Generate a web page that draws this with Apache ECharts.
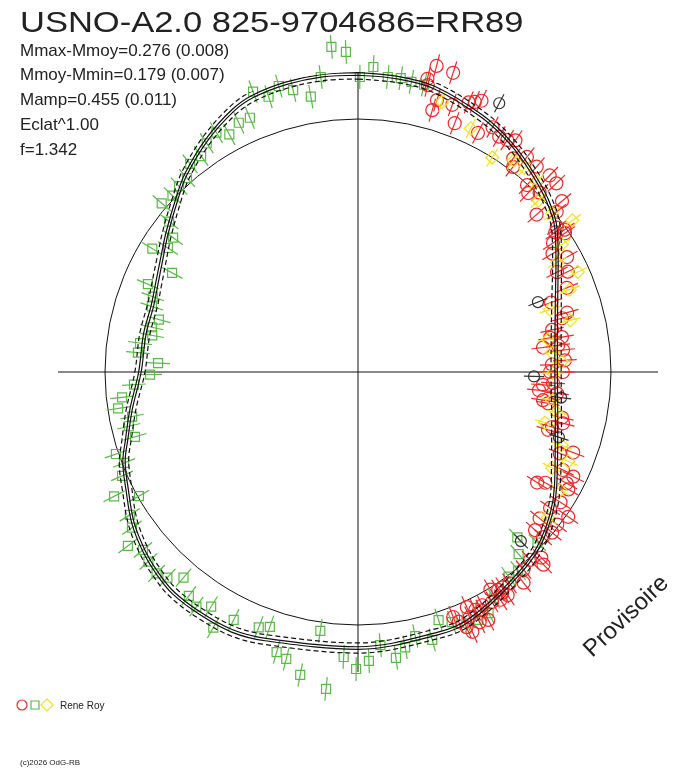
<!DOCTYPE html>
<html>
<head>
<meta charset="utf-8">
<script src="https://cdn.jsdelivr.net/npm/echarts@6/dist/echarts.min.js"></script>
<style>
  html, body { margin: 0; padding: 0; background: #fff; }
  #chart { width: 688px; height: 768px; }
</style>
</head>
<body>
<div id="chart"></div>
<script>
// mean light curve: phase (0..1, clockwise from top) and radius (reference circle = 1)
const curvePhase = [0.000, 0.022, 0.042, 0.072, 0.094, 0.114, 0.133, 0.150, 0.169, 0.194, 0.225, 0.250,
    0.289, 0.333, 0.369, 0.400, 0.433, 0.452, 0.500, 0.553, 0.572, 0.592, 0.611, 0.625, 0.639, 0.656,
    0.675, 0.692, 0.705, 0.724, 0.750, 0.778, 0.800, 0.817, 0.834, 0.850, 0.872, 0.886, 0.908, 0.929,
    0.942, 0.961, 0.981, 1.000];
const curveR = [1.178, 1.174, 1.164, 1.123, 1.087, 1.047, 1.010, 0.967, 0.901, 0.836, 0.793, 0.783,
    0.809, 0.901, 0.987, 1.028, 1.075, 1.081, 1.091, 1.119, 1.138, 1.140, 1.138, 1.123, 1.103, 1.071,
    1.024, 0.990, 0.952, 0.909, 0.862, 0.856, 0.854, 0.870, 0.897, 0.933, 0.992, 1.036, 1.095, 1.146,
    1.166, 1.176, 1.180, 1.178];
const bandHalf = 0.02;    // dashed envelope
const fitHalf = 0.005;    // double solid fit line

// observations [phase, radius]
const greenObs = [
    [0.987, 1.289], [0.994, 1.266], [0.008, 1.207], [0.001, 1.166], [0.980, 1.175], [0.016, 1.172],
    [0.023, 1.174], [0.029, 1.166], [0.036, 1.165], [0.957, 1.173], [0.964, 1.143], [0.943, 1.183],
    [0.950, 1.144], [0.973, 1.104], [0.936, 1.092], [0.929, 1.092], [0.915, 1.099], [0.921, 1.068],
    [0.907, 1.084], [0.900, 1.055], [0.892, 1.057], [0.885, 1.022], [0.878, 1.020], [0.871, 1.012],
    [0.863, 1.023], [0.857, 0.954], [0.850, 0.903], [0.836, 0.948], [0.842, 0.897], [0.828, 0.833],
    [0.813, 0.900], [0.806, 0.864], [0.799, 0.855], [0.791, 0.814], [0.784, 0.834], [0.778, 0.826],
    [0.771, 0.869], [0.764, 0.873], [0.757, 0.791], [0.748, 0.822], [0.741, 0.887], [0.733, 0.938],
    [0.726, 0.959], [0.719, 0.910], [0.713, 0.931], [0.705, 0.918], [0.698, 1.010], [0.691, 0.992],
    [0.684, 1.019], [0.675, 1.082], [0.668, 0.995], [0.661, 1.064], [0.654, 1.085], [0.647, 1.140],
    [0.640, 1.103], [0.633, 1.117], [0.625, 1.126], [0.619, 1.108], [0.612, 1.066], [0.603, 1.109],
    [0.596, 1.126], [0.589, 1.094], [0.582, 1.161], [0.574, 1.096], [0.559, 1.083], [0.553, 1.066],
    [0.545, 1.153], [0.539, 1.169], [0.530, 1.219], [0.523, 1.034], [0.516, 1.259], [0.508, 1.128],
    [0.501, 1.174], [0.494, 1.143], [0.487, 1.083], [0.479, 1.140], [0.473, 1.104], [0.466, 1.068],
    [0.457, 1.099], [0.450, 1.031], [0.443, 1.056], [0.435, 1.080], [0.378, 0.908], [0.371, 0.979],
    [0.385, 0.960], [0.392, 1.009], [0.399, 1.004], [0.414, 1.043], [0.421, 1.084], [0.428, 1.089]
];
const redObs = [
    [0.040, 1.249], [0.049, 1.241], [0.037, 1.191], [0.038, 1.167], [0.044, 1.076], [0.045, 1.119],
    [0.059, 1.055], [0.054, 1.120], [0.062, 1.152], [0.065, 1.163], [0.068, 1.178], [0.074, 1.057],
    [0.080, 1.104], [0.086, 1.085], [0.091, 1.090], [0.095, 1.107], [0.100, 1.044], [0.103, 1.016],
    [0.106, 1.081], [0.114, 1.076], [0.123, 1.085], [0.129, 1.082], [0.117, 0.996], [0.121, 0.976],
    [0.126, 1.009], [0.139, 1.052], [0.135, 0.941], [0.142, 1.009], [0.150, 0.971], [0.154, 0.992],
    [0.152, 0.955], [0.156, 0.985], [0.157, 0.924], [0.163, 0.900], [0.170, 0.943], [0.176, 0.880],
    [0.179, 0.919], [0.189, 0.890], [0.195, 0.811], [0.206, 0.859], [0.209, 0.834], [0.216, 0.785],
    [0.222, 0.771], [0.223, 0.818], [0.229, 0.798], [0.229, 0.738], [0.233, 0.815], [0.241, 0.819],
    [0.244, 0.767], [0.250, 0.759], [0.250, 0.810], [0.261, 0.733], [0.259, 0.772], [0.266, 0.719],
    [0.267, 0.791], [0.274, 0.740], [0.276, 0.761], [0.285, 0.826], [0.289, 0.835], [0.294, 0.797],
    [0.297, 0.785], [0.307, 0.908], [0.311, 0.860], [0.321, 0.898], [0.322, 0.946], [0.328, 0.935],
    [0.338, 0.832], [0.335, 0.860], [0.331, 0.952], [0.341, 0.952], [0.348, 0.930], [0.358, 0.922],
    [0.346, 1.009], [0.354, 0.992], [0.366, 0.938], [0.360, 0.996], [0.366, 0.980], [0.376, 1.031],
    [0.378, 1.057], [0.382, 1.007], [0.389, 1.019], [0.394, 1.059], [0.401, 1.028], [0.406, 1.025],
    [0.409, 1.024], [0.413, 1.007], [0.408, 1.043], [0.406, 1.062], [0.411, 1.062], [0.416, 1.052],
    [0.422, 1.045], [0.431, 1.024], [0.427, 1.048], [0.424, 1.061], [0.432, 1.065], [0.428, 1.100],
    [0.423, 1.107], [0.436, 1.096], [0.434, 1.122], [0.441, 1.039], [0.439, 1.064]
];
const yellowObs = [
    [0.048, 1.118], [0.069, 1.061], [0.089, 1.000], [0.101, 1.038], [0.109, 1.042], [0.120, 1.032],
    [0.129, 0.984], [0.141, 0.991], [0.152, 1.038], [0.161, 0.950], [0.170, 0.899], [0.182, 0.955],
    [0.191, 0.898], [0.200, 0.798], [0.212, 0.863], [0.223, 0.762], [0.234, 0.771], [0.242, 0.807],
    [0.251, 0.771], [0.273, 0.775], [0.282, 0.802], [0.292, 0.766], [0.305, 0.856], [0.314, 0.903],
    [0.323, 0.856], [0.334, 0.925], [0.354, 0.945]
];
const blackObs = [
    [0.077, 1.200], [0.191, 0.763], [0.254, 0.696], [0.270, 0.809], [0.300, 0.835], [0.378, 0.928]
];
const errGreen = 0.047;
const errRed = 0.047;
const errYellow = 0.042;
const errBlack = 0.04;

const statLines = ['Mmax-Mmoy=0.276 (0.008)', 'Mmoy-Mmin=0.179 (0.007)', 'Mamp=0.455 (0.011)', 'Eclat^1.00', 'f=1.342'];

const chart = echarts.init(document.getElementById('chart'), null, { renderer: 'canvas' });

function toPolar(obs) {
    return obs.map(function (d) { return [d[1], d[0]]; });
}

function curveData(offset) {
    return curvePhase.map(function (p, i) { return [curveR[i] + offset, p]; });
}

/**
 * Builds a renderItem drawing a hollow marker with a radial error bar.
 */
function markerRenderer(color, shape, size, err) {
    return function (params, api) {
        const r = api.value(0);
        const ph = api.value(1);
        const p = api.coord([r, ph]);
        const a = api.coord([r - err, ph]);
        const b = api.coord([r + err, ph]);
        const st = { stroke: color, fill: 'none', lineWidth: 1.2 };
        const children = [{
            type: 'line',
            shape: { x1: a[0], y1: a[1], x2: b[0], y2: b[1] },
            style: { stroke: color, lineWidth: 1.2 }
        }];
        if (shape === 'circle') {
            children.push({ type: 'circle', shape: { cx: p[0], cy: p[1], r: size }, style: st });
        } else if (shape === 'square') {
            children.push({ type: 'rect', shape: { x: p[0] - size, y: p[1] - size, width: 2 * size, height: 2 * size }, style: st });
        } else {
            children.push({
                type: 'polygon',
                shape: { points: [[p[0], p[1] - size], [p[0] + size, p[1]], [p[0], p[1] + size], [p[0] - size, p[1]]] },
                style: st
            });
        }
        return { type: 'group', children: children };
    };
}

function markerSeries(obs, color, shape, size, err) {
    return {
        type: 'custom',
        coordinateSystem: 'polar',
        polarIndex: 0,
        silent: true,
        z: 2,
        renderItem: markerRenderer(color, shape, size, err),
        data: toPolar(obs)
    };
}

function lineSeries(offset, dashed) {
    return {
        type: 'line',
        coordinateSystem: 'polar',
        polarIndex: 0,
        smooth: 0.35,
        symbol: 'none',
        silent: true,
        clip: false,
        z: 5,
        lineStyle: { color: '#111', width: 1.2, type: dashed ? [5, 3] : 'solid' },
        data: curveData(offset)
    };
}

const hidden = { show: false };
const textFont = '17px "Liberation Sans", Arial, sans-serif';

const graphics = [{
    type: 'text',
    x: 20, y: 24,
    scaleX: 1.15,
    style: { text: 'USNO-A2.0 825-9704686=RR89', font: '30px "Liberation Sans", Arial, sans-serif', fill: '#222', textAlign: 'left', textVerticalAlign: 'middle' }
}];
statLines.forEach(function (t, i) {
    graphics.push({
        type: 'text',
        x: 20, y: 51 + i * 24.8,
        style: { text: t, font: textFont, fill: '#222', textAlign: 'left', textVerticalAlign: 'middle' }
    });
});
graphics.push({
    type: 'text',
    x: 596, y: 662,
    rotation: 0.76,
    style: { text: 'Provisoire', font: '24px "Liberation Sans", Arial, sans-serif', fill: '#222', textAlign: 'left', textVerticalAlign: 'bottom' }
});
graphics.push(
    { type: 'circle', shape: { cx: 22, cy: 705, r: 5 }, style: { stroke: '#EA2A2A', fill: 'none', lineWidth: 1.2 } },
    { type: 'rect', shape: { x: 31, y: 701, width: 8, height: 8 }, style: { stroke: '#5CB84A', fill: 'none', lineWidth: 1.2 } },
    { type: 'polygon', shape: { points: [[47, 699], [53, 705], [47, 711], [41, 705]] }, style: { stroke: '#F2E21A', fill: 'none', lineWidth: 1.2 } },
    { type: 'text', x: 60, y: 706, style: { text: 'Rene Roy', font: '10px "Liberation Sans", Arial, sans-serif', fill: '#222', textVerticalAlign: 'middle' } },
    { type: 'text', x: 20, y: 763, style: { text: '(c)2026 OdG-RB', font: '8px "Liberation Sans", Arial, sans-serif', fill: '#222', textVerticalAlign: 'middle' } }
);

const options = {
    backgroundColor: '#fff',
    animation: false,
    polar: [
        { center: [358, 372], radius: 300 },
        { center: [358, 372], radius: 253 }
    ],
    angleAxis: [{
        polarIndex: 0,
        type: 'value',
        min: 0, max: 1, interval: 0.25,
        startAngle: 90, clockwise: true,
        axisLine: hidden, axisTick: hidden, axisLabel: hidden,
        splitLine: { show: true, lineStyle: { color: '#111', width: 1 } }
    }, {
        polarIndex: 1,
        type: 'value',
        min: 0, max: 1,
        startAngle: 90, clockwise: true,
        axisLine: { show: true, lineStyle: { color: '#111', width: 1 } },
        axisTick: hidden, axisLabel: hidden, splitLine: hidden
    }],
    radiusAxis: [{
        polarIndex: 0,
        type: 'value',
        min: 0, max: 300 / 253,
        axisLine: hidden, axisTick: hidden, axisLabel: hidden, splitLine: hidden
    }, {
        polarIndex: 1,
        type: 'value',
        min: 0, max: 1,
        axisLine: hidden, axisTick: hidden, axisLabel: hidden, splitLine: hidden
    }],
    graphic: graphics,
    series: [
        markerSeries(greenObs, '#5CB84A', 'square', 4.5, errGreen),
        markerSeries(redObs, '#EA2A2A', 'circle', 6.5, errRed),
        markerSeries(yellowObs, '#F2E21A', 'diamond', 6.5, errYellow),
        markerSeries(blackObs, '#333', 'circle', 5.5, errBlack),
        lineSeries(-bandHalf, true),
        lineSeries(bandHalf, true),
        lineSeries(-fitHalf, false),
        lineSeries(fitHalf, false)
    ]
};
chart.setOption(options);
</script>
</body>
</html>
